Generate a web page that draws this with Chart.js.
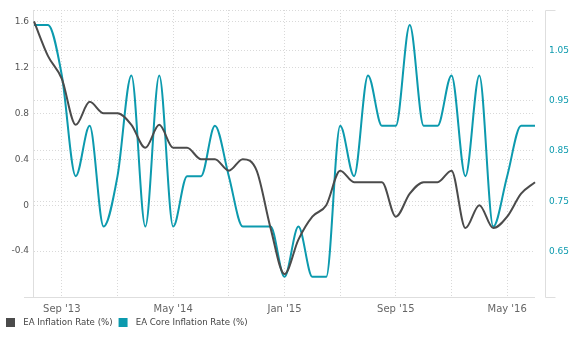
<!DOCTYPE html>
<html>
<head>
<meta charset="utf-8">
<title>EA Inflation</title>
<script src="https://cdn.jsdelivr.net/npm/chart.js@4.4.0/dist/chart.umd.min.js"></script>
<style>
  html, body { margin: 0; padding: 0; background: #fff; }
</style>
</head>
<body>
<canvas id="canvas" width="583" height="337"></canvas>
<script>
// monthly points, Jul 2013 .. Jul 2016
const months = [
    "Jul '13", "Aug '13", "Sep '13", "Oct '13", "Nov '13", "Dec '13",
    "Jan '14", "Feb '14", "Mar '14", "Apr '14", "May '14", "Jun '14",
    "Jul '14", "Aug '14", "Sep '14", "Oct '14", "Nov '14", "Dec '14",
    "Jan '15", "Feb '15", "Mar '15", "Apr '15", "May '15", "Jun '15",
    "Jul '15", "Aug '15", "Sep '15", "Oct '15", "Nov '15", "Dec '15",
    "Jan '16", "Feb '16", "Mar '16", "Apr '16", "May '16", "Jun '16",
    "Jul '16"
];
const inflation = [
    1.6, 1.3, 1.1, 0.7, 0.9, 0.8,
    0.8, 0.7, 0.5, 0.7, 0.5, 0.5,
    0.4, 0.4, 0.3, 0.4, 0.3, -0.2,
    -0.6, -0.3, -0.1, 0.0, 0.3, 0.2,
    0.2, 0.2, -0.1, 0.1, 0.2, 0.2,
    0.3, -0.2, 0.0, -0.2, -0.1, 0.1,
    0.2
];
const coreInflation = [
    1.1, 1.1, 1.0, 0.8, 0.9, 0.7,
    0.8, 1.0, 0.7, 1.0, 0.7, 0.8,
    0.8, 0.9, 0.8, 0.7, 0.7, 0.7,
    0.6, 0.7, 0.6, 0.6, 0.9, 0.8,
    1.0, 0.9, 0.9, 1.1, 0.9, 0.9,
    1.0, 0.8, 1.0, 0.7, 0.8, 0.9,
    0.9
];
const leftTicks = [-0.8, -0.4, 0, 0.4, 0.8, 1.2, 1.6, 1.7];
const rightTicks = [0.65, 0.75, 0.85, 0.95, 1.05];
const gridMonths = ['Jan', 'May', 'Sep'];   // vertical grid every 4 months
const xLabels = ["Sep '13", "May '14", "Jan '15", "Sep '15", "May '16"];

const GREY = '#4b4b4b';
const TEAL = '#0c9aae';
const GRID = '#d9d9d9';
const NONE = 'rgba(0,0,0,0)';

// square legend marker, 9px, sitting a little inside a wider slot
function swatch(color) {
    const c = document.createElement('canvas');
    c.width = 17;
    c.height = 9;
    const g = c.getContext('2d');
    g.fillStyle = color;
    g.fillRect(4, 0, 9, 9);
    return c;
}

// axis lines: left, bottom (sticking out a bit) and the detached right one
const axisLines = {
    id: 'axisLines',
    beforeDatasetsDraw(chart) {
        const {ctx, chartArea: a} = chart;
        ctx.save();
        ctx.lineWidth = 1;
        ctx.strokeStyle = '#dedede';
        ctx.beginPath();
        ctx.moveTo(a.left - 0.5, a.top);
        ctx.lineTo(a.left - 0.5, a.bottom + 1);
        ctx.moveTo(a.left - 10, a.bottom + 0.5);
        ctx.lineTo(a.right, a.bottom + 0.5);
        const rx = a.right + 10.5;
        ctx.moveTo(rx + 10, a.top + 0.5);
        ctx.lineTo(rx, a.top + 0.5);
        ctx.lineTo(rx, a.bottom + 0.5);
        ctx.lineTo(rx + 10, a.bottom + 0.5);
        ctx.stroke();
        ctx.restore();
    }
};

const ctx = document.getElementById('canvas').getContext('2d');
const myChart = new Chart(ctx, {
    type: 'line',
    data: {
        labels: months,
        datasets: [{
            label: 'EA Inflation Rate (%)',
            data: inflation,
            yAxisID: 'y',
            borderColor: GREY,
            backgroundColor: GREY,
            borderWidth: 2,
            pointRadius: 0,
            pointStyle: swatch(GREY),
            cubicInterpolationMode: 'monotone'
        }, {
            label: 'EA Core Inflation Rate (%)',
            data: coreInflation,
            yAxisID: 'y1',
            borderColor: TEAL,
            backgroundColor: TEAL,
            borderWidth: 2,
            pointRadius: 0,
            pointStyle: swatch(TEAL),
            cubicInterpolationMode: 'monotone'
        }]
    },
    options: {
        responsive: false,
        animation: false,
        layout: { padding: { top: 10, left: 0, right: 0, bottom: 0 } },
        plugins: {
            tooltip: { enabled: false },
            legend: {
                position: 'bottom',
                align: 'start',
                labels: {
                    usePointStyle: true,
                    pointStyleWidth: 17,
                    padding: 2,
                    color: '#444',
                    font: { family: 'DejaVu Sans', size: 8.6 }
                }
            }
        },
        scales: {
            x: {
                type: 'category',
                offset: false,
                afterBuildTicks: s => {
                    s.ticks = s.ticks.filter(t => gridMonths.includes(months[t.value].slice(0, 3)));
                },
                afterFit: s => { s.height = 19.4; },
                grid: { color: GRID, drawTicks: false },
                border: { display: false, dash: [1, 2] },
                ticks: {
                    autoSkip: false,
                    maxRotation: 0,
                    padding: 6,
                    color: '#666',
                    font: { family: 'DejaVu Sans', size: 10 },
                    callback: v => xLabels.includes(months[v]) ? months[v] : ''
                }
            },
            y: {
                position: 'left',
                min: -0.8,
                max: 1.7,
                afterBuildTicks: s => { s.ticks = leftTicks.map(v => ({value: v})); },
                afterFit: s => { s.width = 34; },
                grid: {
                    color: c => (c.tick && c.tick.value === -0.8) ? NONE : GRID,
                    drawTicks: true,
                    tickLength: 4,
                    tickColor: NONE
                },
                border: { display: false, dash: [1, 2] },
                ticks: {
                    padding: 1,
                    color: '#555',
                    font: { family: 'DejaVu Sans', size: 9 },
                    callback: v => (v === -0.8 || v === 1.7) ? '' : String(v)
                }
            },
            y1: {
                position: 'right',
                min: 0.56,
                max: 1.13,
                afterBuildTicks: s => { s.ticks = rightTicks.map(v => ({value: v})); },
                afterFit: s => { s.width = 48; },
                grid: { color: GRID, drawTicks: true, tickLength: 13, tickColor: NONE },
                border: { display: false, dash: [1, 2] },
                ticks: {
                    padding: 1,
                    color: TEAL,
                    font: { family: 'DejaVu Sans', size: 9 },
                    callback: v => String(v)
                }
            }
        }
    },
    plugins: [axisLines]
});
</script>
</body>
</html>
